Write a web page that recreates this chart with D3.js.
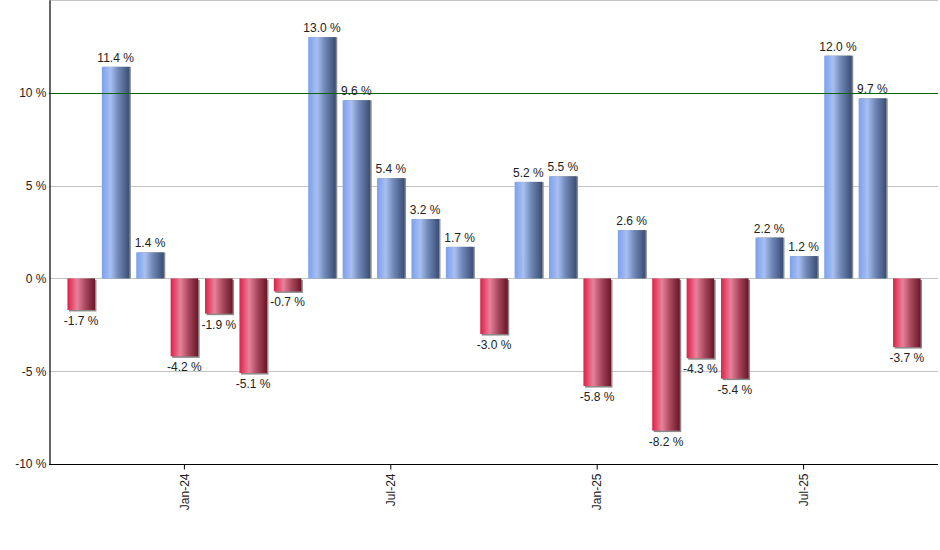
<!DOCTYPE html>
<html>
<head>
<meta charset="utf-8">
<script src="https://cdn.jsdelivr.net/npm/d3@7"></script>
<style>
  body { margin: 0; background: #fff; }
  svg { display: block; font-family: "Liberation Sans", Arial, sans-serif; }
</style>
</head>
<body>
<svg id="chart" width="940" height="550"></svg>
<script>
// Monthly returns, Oct-23 .. Oct-25
const months = [
    "Oct-23", "Nov-23", "Dec-23", "Jan-24", "Feb-24", "Mar-24", "Apr-24", "May-24", "Jun-24",
    "Jul-24", "Aug-24", "Sep-24", "Oct-24", "Nov-24", "Dec-24", "Jan-25", "Feb-25", "Mar-25",
    "Apr-25", "May-25", "Jun-25", "Jul-25", "Aug-25", "Sep-25", "Oct-25"
];
const returns = [
    -1.7, 11.4, 1.4, -4.2, -1.9, -5.1, -0.7, 13.0, 9.6,
    5.4, 3.2, 1.7, -3.0, 5.2, 5.5, -5.8, 2.6, -8.2,
    -4.3, -5.4, 2.2, 1.2, 12.0, 9.7, -3.7
];
const yTicks = [-10, -5, 0, 5, 10];
const gridTicks = [-5, 0, 5, 15];
const xTickLabels = ["Jan-24", "Jul-24", "Jan-25", "Jul-25"];
const refLine = 10;

const data = months.map((m, i) => ({ month: m, value: returns[i] }));

const svg = d3.select("#chart");
const plotLeft = 49, plotRight = 938, plotTop = 0, plotBottom = 464;

const x = d3.scaleBand()
    .domain(months)
    .range([64, 924])
    .paddingInner(0.2)
    .paddingOuter(0.1);

const y = d3.scaleLinear()
    .domain([-10, 15])
    .range([plotBottom, plotTop]);

// Gradients
const defs = svg.append("defs");
function gradient(id, stops) {
    const gr = defs.append("linearGradient")
        .attr("id", id)
        .attr("x1", "0%").attr("x2", "100%")
        .attr("y1", "0%").attr("y2", "0%");
    stops.forEach(s => gr.append("stop").attr("offset", s[0]).attr("stop-color", s[1]));
}
gradient("blueGrad", [["0%", "#7aa0ee"], ["32%", "#a8bff0"], ["60%", "#7088b8"], ["100%", "#3a4e74"]]);
gradient("redGrad", [["0%", "#de1f48"], ["35%", "#e8819a"], ["65%", "#a8485e"], ["100%", "#6a1626"]]);

// Gridlines
svg.append("g")
    .selectAll("line")
    .data(gridTicks)
    .enter()
    .append("line")
    .attr("x1", plotLeft)
    .attr("x2", plotRight)
    .attr("y1", d => Math.round(y(d)) + 0.5)
    .attr("y2", d => Math.round(y(d)) + 0.5)
    .attr("stroke", "#c4c4c4")
    .attr("stroke-width", 1);

// Bar shadows
svg.append("g")
    .selectAll("rect")
    .data(data)
    .enter()
    .append("rect")
    .attr("x", d => x(d.month) + 1.5)
    .attr("y", d => Math.min(y(d.value), y(0)) + (d.value < 0 ? 1.5 : 0))
    .attr("width", x.bandwidth())
    .attr("height", d => Math.abs(y(d.value) - y(0)))
    .attr("fill", "#8a8a8a");

// Bars
svg.append("g")
    .selectAll("rect")
    .data(data)
    .enter()
    .append("rect")
    .attr("x", d => x(d.month))
    .attr("y", d => Math.min(y(d.value), y(0)))
    .attr("width", x.bandwidth())
    .attr("height", d => Math.abs(y(d.value) - y(0)))
    .attr("fill", d => d.value >= 0 ? "url(#blueGrad)" : "url(#redGrad)");

// 10 % reference line
svg.append("line")
    .attr("x1", plotLeft)
    .attr("x2", plotRight)
    .attr("y1", Math.round(y(refLine)) + 0.5)
    .attr("y2", Math.round(y(refLine)) + 0.5)
    .attr("stroke", "#006400")
    .attr("stroke-width", 1);

// Value labels
svg.append("g")
    .selectAll("text")
    .data(data)
    .enter()
    .append("text")
    .attr("x", d => x(d.month) + x.bandwidth() / 2)
    .attr("y", d => d.value >= 0 ? y(d.value) - 5 : y(d.value) + 15)
    .attr("text-anchor", "middle")
    .attr("font-size", "12px")
    .attr("fill", "#222")
    .text(d => d.value.toFixed(1) + " %");

// Y axis
const yAxis = d3.axisLeft(y)
    .tickValues(yTicks)
    .tickSize(0)
    .tickPadding(3)
    .tickFormat(d => d + " %");

const gy = svg.append("g")
    .attr("transform", `translate(${plotLeft + 0.5},0)`)
    .call(yAxis);
gy.select(".domain").attr("stroke", "#000").attr("stroke-width", 1.2);
gy.selectAll("text").attr("font-size", "12px").attr("fill", "#222")
    .attr("font-family", "Liberation Sans, Arial, sans-serif");

// X axis
const xAxis = d3.axisBottom(x)
    .tickValues(xTickLabels)
    .tickSize(5)
    .tickSizeOuter(0);

const gx = svg.append("g")
    .attr("transform", `translate(0,${plotBottom + 0.5})`)
    .call(xAxis);
gx.select(".domain").attr("d", `M${plotLeft},0H${plotRight}`).attr("stroke", "#000").attr("stroke-width", 1.2);
gx.selectAll(".tick line").attr("stroke", "#000");
gx.selectAll("text")
    .attr("font-size", "12px")
    .attr("fill", "#222")
    .attr("font-family", "Liberation Sans, Arial, sans-serif")
    .attr("transform", "rotate(-90)")
    .attr("text-anchor", "end")
    .attr("x", -9)
    .attr("y", 0)
    .attr("dy", "0.35em");
</script>
</body>
</html>
